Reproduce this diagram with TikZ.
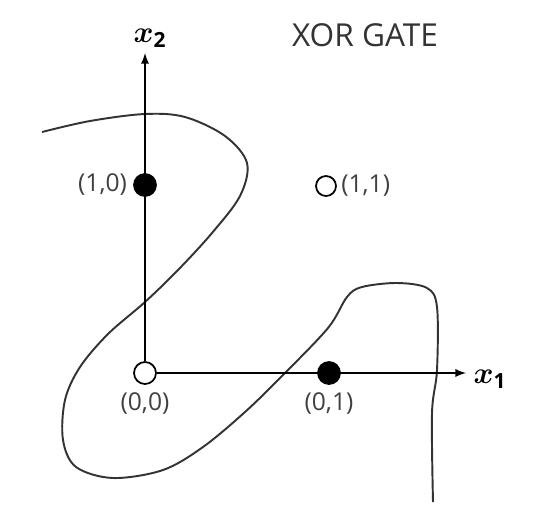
\documentclass[tikz,border=0pt]{standalone}
\usepackage{amsmath}
\usepackage{fontspec}
\setmainfont{Open Sans}
\usepackage{tikz}
\usetikzlibrary{calc}

\begin{document}
\begin{tikzpicture}[x=0.02cm, y=-0.02cm,
		dot/.style={circle, fill=black, draw=black, line width=1pt, minimum size=0.44cm, inner sep=0pt},
		hole/.style={circle, fill=white, draw=black, line width=1pt, minimum size=0.44cm, inner sep=0pt},
		lbl/.style={font=\fontsize{14}{16}\selectfont, text=black!75},
		axis/.style={line width=1.1pt, -latex}]
			\useasboundingbox (0,0) rectangle (534,518);
			\coordinate (x1tip) at (466,373);
			\coordinate (x2tip) at (145,53);
			% separating curve
			\draw[line width=1.1pt, black!80] plot[smooth, tension=0.55] coordinates {(42,132) (90,121) (145,114) (185,117) (225,136) (247,163) (240,196) (212,233) (178,270) (145,302) (108,334) (80,367) (65,400) (63,440) (76,467) (113,478) (163,470) (203,447) (245,412) (283,375) (328,328) (347,297) (362,287) (397,283) (427,288) (437,307) (437,370) (432,413) (433,502)};
			\node[hole] (p00) at (145,373) {};
			\draw[axis] (p00.east) -- (x1tip);
			\draw[axis] (p00.north) -- (x2tip);
			\node[dot] (p10) at (145,185) {};
			\node[dot] (p01) at (329,373) {};
			\node[hole, minimum size=0.4cm] (p11) at (326,186) {};
			\node[lbl, below=1pt] (l00) at (p00.south) {(0,0)};
			\node[lbl, below=1pt] (l01) at (p01.south) {(0,1)};
			\node[lbl, left=0pt] (l10) at (p10.west) {(1,0)};
			\node[lbl, right=-1pt] (l11) at (p11.east) {(1,1)};
			\node[font=\fontsize{17}{20}\selectfont] (lx1) at (490,379) {$\boldsymbol{x}_{\mathbf{1}}$};
			\node[font=\fontsize{17}{20}\selectfont] (lx2) at (150,38) {$\boldsymbol{x}_{\mathbf{2}}$};
			\node[font=\fontsize{18}{21}\selectfont, text=black!80] (title) at (365,35) {XOR GATE};
		\end{tikzpicture}
\end{document}
